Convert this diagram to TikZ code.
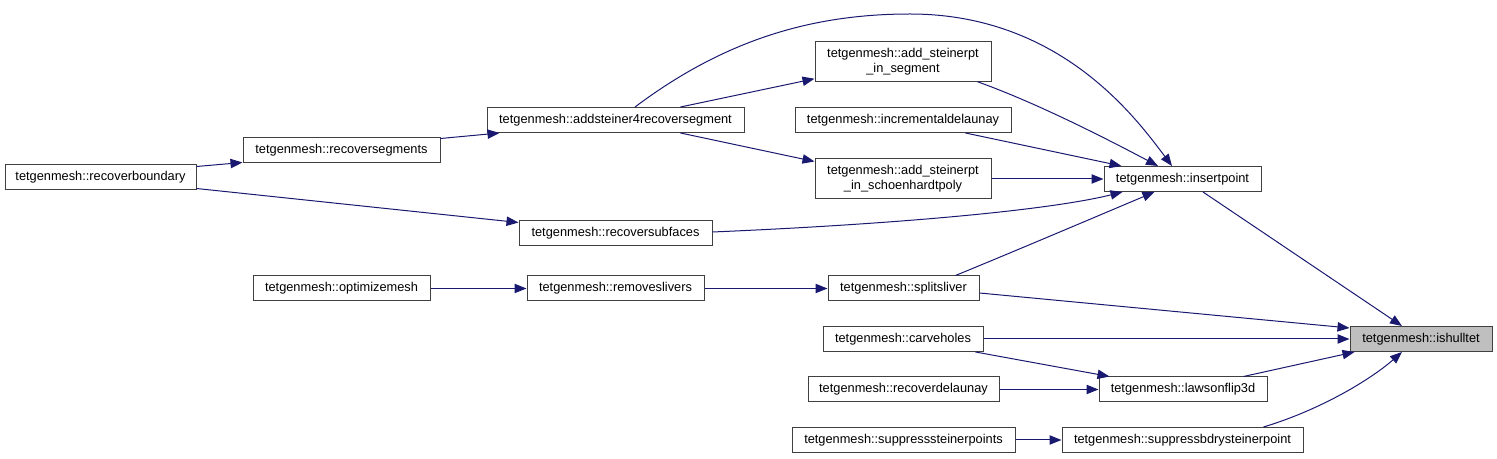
\documentclass[tikz,border=0pt]{standalone}
\usepackage{fontspec}
\setmainfont{Liberation Sans}
\usetikzlibrary{arrows.meta,calc}
\definecolor{edgeblue}{HTML}{191970}
\definecolor{rootfill}{HTML}{BFBFBF}
\definecolor{boxline}{HTML}{404040}
\begin{document}
\begin{tikzpicture}[x=0.75pt,y=-0.75pt,
  fn/.style={draw=boxline,line width=0.75pt,fill=white,inner sep=0pt,minimum height=25*0.75pt,
    font=\fontsize{9.6}{11.25}\selectfont,align=center},
  fn2/.style={fn,minimum height=39.5*0.75pt},
  root/.style={fn,fill=rootfill},
  call/.style={draw=edgeblue,line width=0.75pt,-{Triangle[length=9pt,width=7pt]}}]
\useasboundingbox (0,0) rectangle (1497,459);
% nodes
\node[fn,minimum width=191*0.75pt] (rb) at (100.5,177) {tetgenmesh::recoverboundary};
\node[fn,minimum width=197*0.75pt] (rs) at (341.5,150.5) {tetgenmesh::recoversegments};
\node[fn,minimum width=257*0.75pt] (as4) at (615.5,120) {tetgenmesh::addsteiner4recoversegment};
\node[fn2,minimum width=176*0.75pt] (asis) at (903,61.5) {tetgenmesh::add\_steinerpt\\\_in\_segment};
\node[fn,minimum width=216*0.75pt] (id) at (903,120) {tetgenmesh::incrementaldelaunay};
\node[fn2,minimum width=176*0.75pt,minimum height=40*0.75pt] (asish) at (903,179) {tetgenmesh::add\_steinerpt\\\_in\_schoenhardtpoly};
\node[fn,minimum width=157*0.75pt] (ip) at (1182.5,179) {tetgenmesh::insertpoint};
\node[fn,minimum width=193*0.75pt] (rsf) at (615.5,233.5) {tetgenmesh::recoversubfaces};
\node[fn,minimum width=177*0.75pt] (om) at (341.5,288.5) {tetgenmesh::optimizemesh};
\node[fn,minimum width=177*0.75pt] (rl) at (615.5,288.5) {tetgenmesh::removeslivers};
\node[fn,minimum width=151*0.75pt] (ss) at (903.5,288.5) {tetgenmesh::splitsliver};
\node[fn,minimum width=160*0.75pt] (ch) at (903,339) {tetgenmesh::carveholes};
\node[root,minimum width=142*0.75pt] (ih) at (1421,339) {tetgenmesh::ishulltet};
\node[fn,minimum width=191*0.75pt] (rd) at (903.5,389.5) {tetgenmesh::recoverdelaunay};
\node[fn,minimum width=168*0.75pt] (lf) at (1183,389.5) {tetgenmesh::lawsonflip3d};
\node[fn,minimum width=223*0.75pt] (sp) at (903.5,440) {tetgenmesh::suppresssteinerpoints};
\node[fn,minimum width=241*0.75pt] (sb) at (1182.5,440) {tetgenmesh::suppressbdrysteinerpoint};
% edges
\draw[call] ($(rb.north east)+(0,2.5)$) -- ($(rs.south west)+(0,-1)$);
\draw[call] ($(rb.south east)+(0,-1.5)$) -- ($(rsf.north west)+(0,2)$);
\draw[call] ($(rs.north east)+(0,1)$) -- ($(as4.south west)+(13,0)$);
\draw[call] ($(as4.north east)+(-64,0)$) -- ($(asis.south west)+(0,-3)$);
\draw[call] ($(as4.south east)+(-64,0)$) -- ($(asish.north west)+(0,3)$);
\draw[call] ($(as4.north)+(19.5,0)$) .. controls (723,41) and (810,14) .. (910,14)
  .. controls (1060,14) and (1136,118) .. ($(ip.north)+(-10.5,0)$);
\draw[call] ($(asis.south east)+(-14,0)$) .. controls (1037,103) and (1108,139.5) .. ($(ip.north)+(-24.5,0)$);
\draw[call] ($(id.south east)+(-46,0)$) -- ($(ip.north west)+(18,0)$);
\draw[call] (asish.east) -- (ip.west);
\draw[call] ($(rsf.east)+(0,-1.5)$) .. controls (900,224) and (1050,210) .. ($(ip.south west)+(19,0)$);
\draw[call] ($(ss.north east)+(-24,0)$) .. controls (1020,249) and (1100,215) .. ($(ip.south west)+(51,0)$);
\draw[call] (om.east) -- (rl.west);
\draw[call] (rl.east) -- (ss.west);
\draw[call] ($(ip.south)+(20.5,0)$) -- ($(ih.north)+(-19,0)$);
\draw[call] ($(ss.east)+(0,4.5)$) -- ($(ih.west)+(0,-11)$);
\draw[call] (ch.east) -- (ih.west);
\draw[call] ($(ch.south east)+(-8,0)$) -- ($(lf.north west)+(11,0)$);
\draw[call] ($(lf.north east)+(-24,0)$) -- ($(ih.south west)+(5,0)$);
\draw[call] (rd.east) -- (lf.west);
\draw[call] ($(sb.north east)+(-40,0)$) .. controls (1320,410) and (1370,380) .. ($(ih.south)+(-19,0)$);
\draw[call] (sp.east) -- (sb.west);
\end{tikzpicture}
\end{document}
